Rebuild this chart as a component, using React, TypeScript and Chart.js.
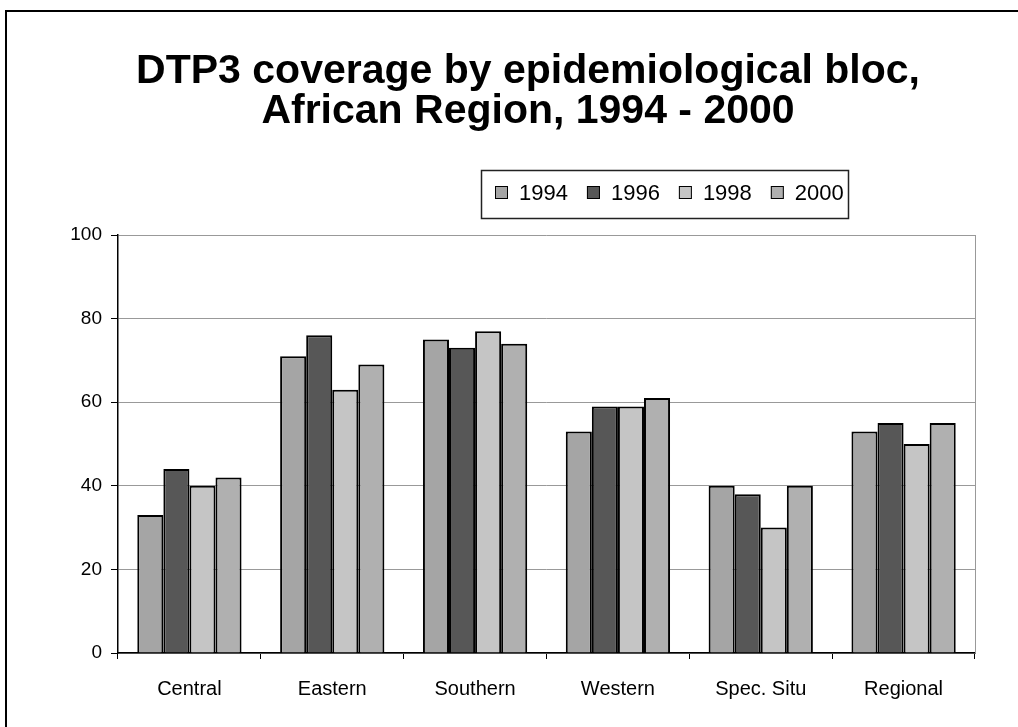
import React, { useEffect, useRef } from "react";
import { Chart, registerables } from "chart.js";

Chart.register(...registerables);

const categories = ["Central", "Eastern", "Southern", "Western", "Spec. Situ", "Regional"];
const seriesNames = ["1994", "1996", "1998", "2000"];
const values1994 = [33, 71, 75, 53, 40, 53];
const values1996 = [44, 76, 73, 59, 38, 55];
const values1998 = [40, 63, 77, 59, 30, 50];
const values2000 = [42, 69, 74, 61, 40, 55];
const yTicks = [0, 20, 40, 60, 80, 100];
const titleLines = ["DTP3 coverage by epidemiological bloc,", "African Region, 1994 - 2000"];
const seriesColors = ["#a5a5a5", "#575757", "#c5c5c5", "#b0b0b0"];

const FONT = "'Liberation Sans', Arial, Helvetica, sans-serif";

const decorPlugin = {
  id: "decor",
  beforeDraw(chart: any) {
    const ctx = chart.ctx;
    ctx.save();
    ctx.fillStyle = "#ffffff";
    ctx.fillRect(0, 0, chart.width, chart.height);
    ctx.restore();
  },
  afterDraw(chart: any) {
    const ctx = chart.ctx;
    const ca = chart.chartArea;
    ctx.save();
    // right edge of plot area
    ctx.strokeStyle = "#999999";
    ctx.lineWidth = 1;
    ctx.beginPath();
    const rx = Math.round(ca.right) + 0.5;
    ctx.moveTo(rx, ca.top);
    ctx.lineTo(rx, ca.bottom);
    ctx.stroke();

    // outer frame (left and top)
    ctx.strokeStyle = "#000000";
    ctx.lineWidth = 2;
    ctx.beginPath();
    ctx.moveTo(6, chart.height + 4);
    ctx.lineTo(6, 11);
    ctx.lineTo(chart.width + 4, 11);
    ctx.stroke();

    // title
    ctx.fillStyle = "#000000";
    ctx.font = `bold 41px ${FONT}`;
    ctx.textAlign = "center";
    ctx.textBaseline = "alphabetic";
    titleLines.forEach((t, i) => ctx.fillText(t, 528, 83 + i * 40));

    // legend
    ctx.strokeStyle = "#222222";
    ctx.lineWidth = 1.5;
    ctx.strokeRect(481.5, 170.5, 367, 48);
    ctx.font = `22px ${FONT}`;
    ctx.textAlign = "left";
    ctx.textBaseline = "middle";
    let x = 495;
    chart.data.datasets.forEach((ds: any) => {
      ctx.fillStyle = ds.backgroundColor;
      ctx.fillRect(x, 186, 13, 13);
      ctx.strokeStyle = "#000000";
      ctx.lineWidth = 1;
      ctx.strokeRect(x + 0.5, 186.5, 12, 12);
      ctx.fillStyle = "#000000";
      ctx.fillText(ds.label, x + 24, 194);
      x += 24 + ctx.measureText(ds.label).width + 19;
    });
    ctx.restore();
  },
};

export default function App() {
  const canvasRef = useRef<HTMLCanvasElement | null>(null);

  useEffect(() => {
    const canvas = canvasRef.current;
    if (!canvas) return;
    const allValues = [values1994, values1996, values1998, values2000];
    const chart = new Chart(canvas, {
      type: "bar",
      data: {
        labels: categories,
        datasets: seriesNames.map((name, i) => ({
          label: name,
          data: allValues[i],
          backgroundColor: seriesColors[i],
          borderColor: "#000000",
          borderWidth: 2,
          categoryPercentage: 0.73,
          barPercentage: 1.0,
        })),
      },
      options: {
        responsive: false,
        animation: false,
        devicePixelRatio: 1,
        layout: { padding: { left: 58, right: 43, top: 235, bottom: 24 } },
        plugins: {
          legend: { display: false },
          title: { display: false },
          tooltip: { enabled: false },
        },
        scales: {
          x: {
            offset: true,
            grid: {
              display: true,
              drawOnChartArea: false,
              drawTicks: true,
              tickLength: 6,
              tickColor: "#000000",
              offset: true,
            },
            border: { display: true, color: "#000000", width: 1.5 },
            ticks: {
              color: "#000000",
              font: { family: FONT, size: 20 },
              padding: 18,
              maxRotation: 0,
              autoSkip: false,
            },
            afterFit: (s: any) => {
              s.height = 50;
            },
          },
          y: {
            min: 0,
            max: 100,
            afterBuildTicks: (s: any) => {
              s.ticks = yTicks.map((v) => ({ value: v }));
            },
            grid: {
              color: "#999999",
              lineWidth: 1,
              drawTicks: true,
              tickLength: 7,
              tickColor: "#000000",
            },
            border: { display: true, color: "#000000", width: 1.5 },
            ticks: {
              color: "#000000",
              font: { family: FONT, size: 19 },
              padding: 9,
            },
            afterFit: (s: any) => {
              s.width = 60;
            },
          },
        },
      },
      plugins: [decorPlugin],
    });
    return () => chart.destroy();
  }, []);

  return (
    <div style={{ position: "absolute", left: 0, top: 0, width: 1018, height: 727, background: "#fff" }}>
      <canvas ref={canvasRef} width={1018} height={727} style={{ display: "block" }} />
    </div>
  );
}
